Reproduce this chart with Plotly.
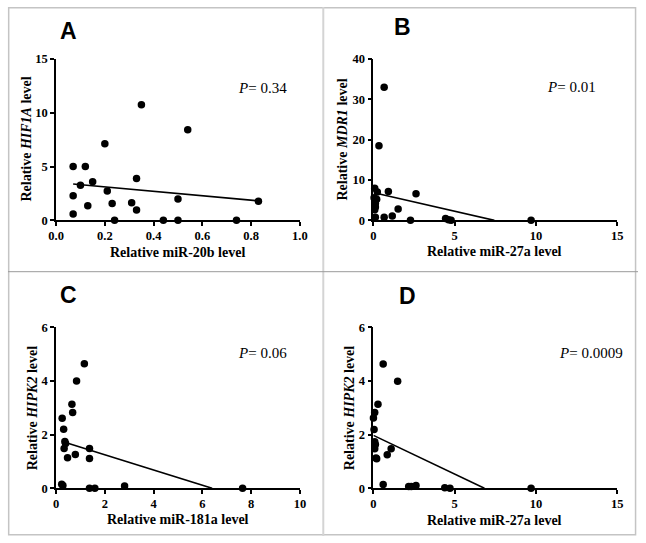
import plotly.graph_objects as go

W, H = 646, 543

# ---------------- Data ----------------
# Panel A: miR-20b vs HIF1A
a_x = [0.07, 0.07, 0.07, 0.10, 0.12, 0.13, 0.15, 0.20, 0.21, 0.23, 0.24,
       0.31, 0.33, 0.33, 0.35, 0.44, 0.50, 0.50, 0.54, 0.74, 0.83]
a_y = [5.0, 2.29, 0.60, 3.26, 5.0, 1.36, 3.59, 7.12, 2.72, 1.57, 0.0,
       1.63, 3.89, 0.97, 10.74, 0.0, 1.99, 0.0, 8.42, 0.0, 1.78]
a_fit_x = [0.07, 0.83]
a_fit_y = [3.38, 1.81]

# Panel B: miR-27a vs MDR1
b_x = [0.66, 0.34, 0.08, 0.24, 0.92, 2.62, 0.04, 0.20, 0.12, 0.12, 0.08,
       0.12, 0.66, 1.16, 1.52, 2.28, 4.44, 4.62, 4.78, 9.70]
b_y = [33.0, 18.5, 7.96, 7.0, 7.16, 6.6, 5.6, 5.2, 4.2, 3.3, 2.65,
       0.8, 0.8, 1.05, 2.8, 0.0, 0.48, 0.16, 0.0, 0.0]
b_fit_x = [0.1, 7.44]
b_fit_y = [6.76, 0.0]

# Panel C: miR-181a vs HIPK2
c_x = [1.16, 0.84, 0.65, 0.68, 0.25, 0.31, 0.36, 0.39, 0.33, 0.47, 0.79,
       1.37, 1.37, 0.23, 0.28, 1.37, 1.59, 2.81, 7.65]
c_y = [4.64, 4.0, 3.13, 2.82, 2.61, 2.2, 1.74, 1.67, 1.48, 1.14, 1.26,
       1.48, 1.11, 0.15, 0.10, 0.0, 0.0, 0.08, 0.0]
c_fit_x = [0.32, 6.4]
c_fit_y = [1.72, 0.0]

# Panel D: miR-27a vs HIPK2
d_x = [0.60, 1.49, 0.28, 0.08, 0.0, 0.04, 0.08, 0.12, 0.08, 0.16, 0.20,
       0.85, 1.09, 0.60, 2.17, 2.33, 2.62, 4.39, 4.71, 9.70]
d_y = [4.63, 3.99, 3.13, 2.82, 2.62, 2.19, 1.73, 1.63, 1.47, 1.13, 1.10,
       1.25, 1.47, 0.14, 0.07, 0.07, 0.10, 0.02, 0.0, 0.0]
d_fit_x = [0.0, 6.83]
d_fit_y = [1.97, 0.0]

x_titles = ["Relative miR-20b level", "Relative miR-27a level",
            "Relative miR-181a level", "Relative miR-27a level"]
y_titles = ["Relative <i>HIF1A</i> level", "Relative <i>MDR1</i> level",
            "Relative <i>HIPK2</i> level", "Relative <i>HIPK2</i> level"]
p_texts = ["<i>P</i>= 0.34", "<i>P</i>= 0.01", "<i>P</i>= 0.06", "<i>P</i>= 0.0009"]
letters = ["A", "B", "C", "D"]
x_ticks = [[0.0, 0.2, 0.4, 0.6, 0.8, 1.0], [0, 5, 10, 15],
           [0, 2, 4, 6, 8, 10], [0, 5, 10, 15]]
y_ticks = [[0, 5, 10, 15], [0, 10, 20, 30, 40], [0, 2, 4, 6], [0, 2, 4, 6]]

# ---------------- Layout geometry (pixels) ----------------
panels = [
    dict(x0=49.3, x1=299.3, yb=219.0, yt=53.3, xt=(174, 252), yt_pos=(18.5, 136),
         p=(288, 83), let=(62, 25), fmt=".1f"),
    dict(x0=374.7, x1=624.7, yb=219.0, yt=53.3, xt=(499, 251), yt_pos=(342.5, 136),
         p=(605, 82), let=(404.5, 21), fmt=""),
    dict(x0=49.3, x1=299.3, yb=494.0, yt=328.7, xt=(174, 526.5), yt_pos=(25.5, 411),
         p=(288, 355), let=(62.5, 296), fmt=""),
    dict(x0=374.7, x1=624.7, yb=494.0, yt=328.7, xt=(499, 527), yt_pos=(350.5, 411),
         p=(633, 355), let=(409.5, 297), fmt=""),
]

datasets = [(a_x, a_y, a_fit_x, a_fit_y), (b_x, b_y, b_fit_x, b_fit_y),
            (c_x, c_y, c_fit_x, c_fit_y), (d_x, d_y, d_fit_x, d_fit_y)]

SERIF = "Liberation Serif, Times New Roman, serif"
SANS = "Liberation Sans, Arial, sans-serif"

fig = go.Figure()
layout = dict(width=W, height=H, margin=dict(l=0, r=0, t=0, b=0),
              paper_bgcolor="white", plot_bgcolor="white", showlegend=False)
annotations = []

for i, (pn, (xs, ys, fx, fy)) in enumerate(zip(panels, datasets)):
    n = "" if i == 0 else str(i + 1)
    xa, ya = "x" + n, "y" + n
    fig.add_trace(go.Scatter(x=xs, y=ys, mode="markers", xaxis=xa, yaxis=ya,
                             marker=dict(color="black", size=7.5),
                             cliponaxis=False))
    fig.add_trace(go.Scatter(x=fx, y=fy, mode="lines", xaxis=xa, yaxis=ya,
                             line=dict(color="black", width=1.6),
                             cliponaxis=False))
    xt, yt = x_ticks[i], y_ticks[i]
    axis_common = dict(showline=True, linecolor="black", linewidth=1.6,
                       ticks="outside", ticklen=4, tickwidth=1.6, tickcolor="black",
                       showgrid=False, zeroline=False,
                       tickfont=dict(family=SERIF, size=12.5, color="black", weight="bold"))
    layout["xaxis" + n] = dict(domain=[pn["x0"] / W, pn["x1"] / W],
                               range=[xt[0], xt[-1]], tickvals=xt,
                               tickformat=pn["fmt"], anchor=ya,
                               ticklabelstandoff=-1, **axis_common)
    layout["yaxis" + n] = dict(domain=[1 - pn["yb"] / H, 1 - pn["yt"] / H],
                               range=[yt[0], yt[-1]], tickvals=yt,
                               anchor=xa, **axis_common)
    # axis titles
    annotations.append(dict(text=x_titles[i], x=pn["xt"][0] / W, y=1 - pn["xt"][1] / H,
                            xref="paper", yref="paper", showarrow=False,
                            xanchor="center", yanchor="middle", borderpad=0,
                            font=dict(family=SERIF, size=14, color="black", weight="bold")))
    annotations.append(dict(text=y_titles[i], x=pn["yt_pos"][0] / W, y=1 - pn["yt_pos"][1] / H,
                            xref="paper", yref="paper", showarrow=False, textangle=-90,
                            xanchor="center", yanchor="middle", borderpad=0,
                            font=dict(family=SERIF, size=14, color="black", weight="bold")))
    # P value
    annotations.append(dict(text=p_texts[i], x=pn["p"][0] / W, y=1 - pn["p"][1] / H,
                            xref="paper", yref="paper", showarrow=False,
                            xanchor="right", yanchor="middle",
                            font=dict(family=SERIF, size=15, color="black")))
    # panel letter
    annotations.append(dict(text=letters[i], x=pn["let"][0] / W, y=1 - pn["let"][1] / H,
                            xref="paper", yref="paper", showarrow=False,
                            xanchor="center", yanchor="middle",
                            font=dict(family=SANS, size=23, color="black", weight="bold")))

layout["annotations"] = annotations

# frame and dividers
shapes = [
    dict(type="rect", xref="paper", yref="paper", x0=0.7 / W, x1=1 - 2.5 / W,
         y0=1.2 / H, y1=1 - 0.7 / H, line=dict(color="#c4c4c4", width=1.5)),
    dict(type="line", xref="paper", yref="paper", x0=323.3 / W, x1=323.3 / W,
         y0=0, y1=1, line=dict(color="#d4d4d4", width=2)),
    dict(type="line", xref="paper", yref="paper", x0=0, x1=1,
         y0=1 - 271.7 / H, y1=1 - 271.7 / H, line=dict(color="#9a9a9a", width=1)),
]
layout["shapes"] = shapes

fig.update_layout(**layout)
fig.write_html("out.html", config={"displayModeBar": False},
               post_script="document.body.style.margin='0';"
                           "document.body.style.overflow='hidden';")
